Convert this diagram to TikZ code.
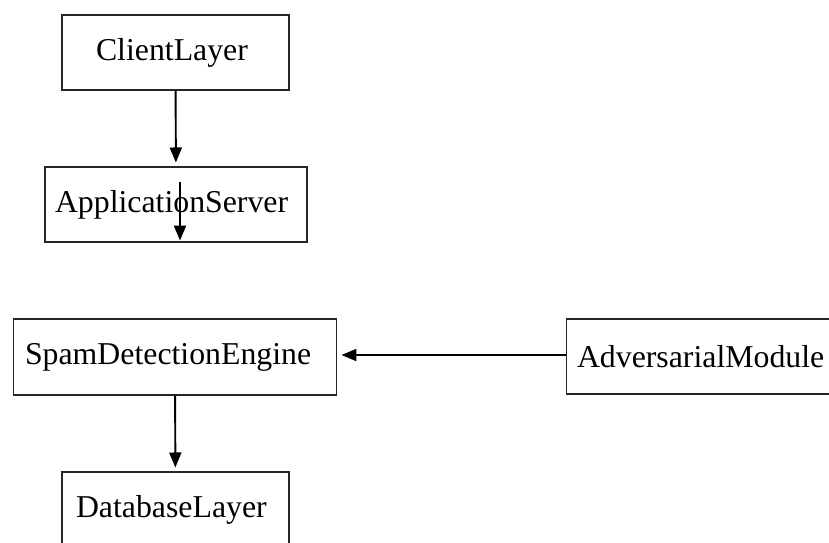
\documentclass[tikz,border=0pt]{standalone}
\usepackage{fontspec}
\setmainfont{Liberation Serif}
\usepackage{tikz}
\usetikzlibrary{arrows.meta, positioning, calc}

\begin{document}
\begin{tikzpicture}[x=0.02cm, y=-0.02cm,
    layerbox/.style={draw=black!85, line width=0.6pt, inner ysep=0pt, align=left, minimum height=1.5cm,
        font=\fontsize{18.1}{22}\selectfont},
    flow/.style={-{Triangle[length=0.3cm, width=0.24cm]}, line width=1.1pt, shorten >=0.08cm}]
    \useasboundingbox (0,0) rectangle (829,542);

    % Stack on the left
    \node[layerbox, inner xsep=0.68cm, text width=3.18cm] (client) at (175.5, 52.5) {ClientLayer};
    \node[layerbox, inner xsep=0.2cm, text width=4.84cm] (appserver) at (176, 204.5) {ApplicationServer};
    \node[layerbox, inner xsep=0.24cm, text width=6.0cm, minimum height=1.52cm] (spam) at (175, 357) {SpamDetectionEngine};
    \node[layerbox, inner xsep=0.28cm, text width=3.98cm] (database) at (175.5, 509.5) {DatabaseLayer};

    % Module on the right
    \node[layerbox, inner xsep=0.22cm, text width=4.84cm] (adversarial) at (698, 356.5) {AdversarialModule};

    \coordinate (appin) at (180, 182); % arrow starts inside the box

    \draw[flow] (client) -- (appserver);
    \draw[flow, shorten >=0.04cm] (appin) -- (appin |- appserver.south);
    \draw[flow] (spam) -- (database);
    \draw[flow] (adversarial.west |- 0,355) -- (spam.east |- 0,355);
\end{tikzpicture}
\end{document}
